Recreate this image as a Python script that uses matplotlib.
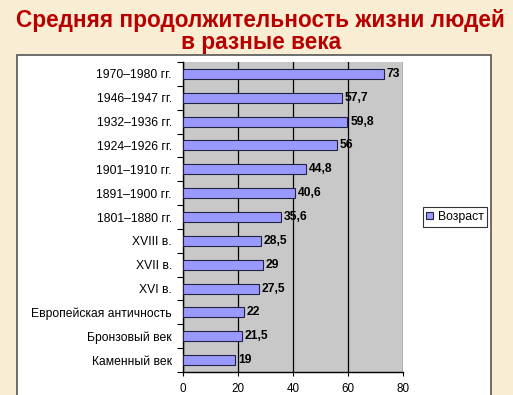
import numpy as np
import matplotlib.pyplot as plt
from matplotlib.patches import Rectangle

plt.rcParams['font.family'] = ['Liberation Sans', 'DejaVu Sans']

periods = ['1970–1980 гг.', '1946–1947 гг.', '1932–1936 гг.', '1924–1926 гг.',
           '1901–1910 гг.', '1891–1900 гг.', '1801–1880 гг.', 'XVIII в.',
           'XVII в.', 'XVI в.', 'Европейская античность', 'Бронзовый век',
           'Каменный век']
ages = [73, 57.7, 59.8, 56, 44.8, 40.6, 35.6, 28.5, 29, 27.5, 22, 21.5, 19]
xticks = [0, 20, 40, 60, 80]

W, H = 513, 395
fig = plt.figure(figsize=(W / 100, H / 100), dpi=100)
fig.patch.set_facecolor('#f9eed4')

# white chart panel
fig.patches.append(Rectangle((16.5 / W, -0.05), (491 - 16.5) / W, 1.05 - 55 / H,
                             transform=fig.transFigure, facecolor='white',
                             edgecolor='#555555', linewidth=1.2, zorder=-10))

fig.text(0.508, 1 - 21 / H, 'Средняя продолжительность жизни людей',
         ha='center', va='center', fontsize=16.3, fontweight='bold', color='#b80000')
fig.text(0.508, 1 - 42 / H, 'в разные века',
         ha='center', va='center', fontsize=16.3, fontweight='bold', color='#b80000')

ax = fig.add_axes([183 / W, 1 - 372 / H, (403 - 183) / W, (372 - 62) / H])
ax.set_facecolor('#c8c8c8')

y = np.arange(len(periods))[::-1]
ax.barh(y, ages, height=0.42, color='#9999ff', edgecolor='#222244',
        linewidth=0.8, zorder=3, label='Возраст')
for yi, v in zip(y, ages):
    ax.text(v + 1.0, yi, f'{v:g}'.replace('.', ','), va='center', ha='left',
            fontsize=8.7, fontweight='bold', color='black', zorder=4)

ax.set_xlim(0, 80)
ax.set_ylim(-0.5, len(periods) - 0.5)
ax.set_xticks(xticks)
ax.xaxis.grid(True, color='black', linewidth=0.9, zorder=1)
ax.set_axisbelow(True)
ax.set_yticks(y)
ax.set_yticklabels(periods, fontsize=8.7)
ax.set_yticks(np.arange(len(periods) + 1) - 0.5, minor=True)
ax.tick_params(axis='y', which='major', length=0, pad=8)
ax.tick_params(axis='y', which='minor', length=4, width=0.8, direction='out')
ax.tick_params(axis='x', length=3, width=0.8, labelsize=8.4, pad=5)
for s in ['top', 'right']:
    ax.spines[s].set_visible(False)
for s in ['left', 'bottom']:
    ax.spines[s].set_linewidth(1.0)

leg = fig.legend(loc='center', bbox_to_anchor=(455 / W, 1 - 217 / H),
                 fontsize=8.8, frameon=True, fancybox=False, handlelength=0.55,
                 handleheight=0.55, handletextpad=0.4, borderpad=0.3,
                 borderaxespad=0)
leg.get_frame().set_edgecolor('black')
leg.get_frame().set_linewidth(0.8)

fig.savefig('out.png', dpi=100)
